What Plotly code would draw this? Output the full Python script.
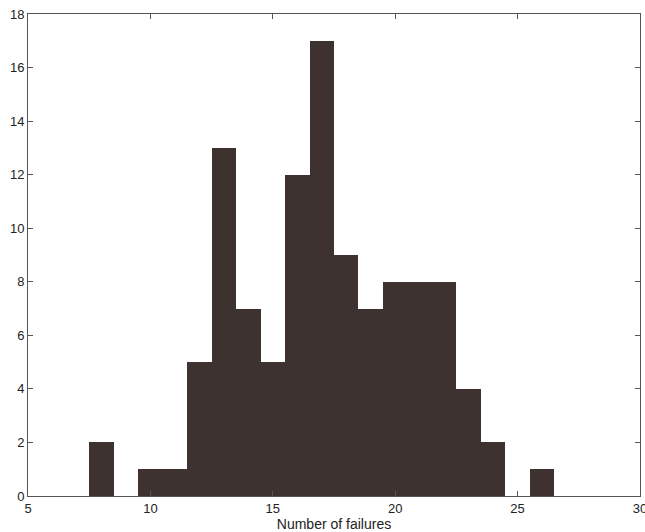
import plotly.graph_objects as go

failures = [8, 10, 11, 12, 13, 14, 15, 16, 17, 18, 19, 20, 21, 22, 23, 24, 26]
counts = [2, 1, 1, 5, 13, 7, 5, 12, 17, 9, 7, 8, 8, 8, 4, 2, 1]
x_ticks = [5, 10, 15, 20, 25, 30]
y_ticks = [0, 2, 4, 6, 8, 10, 12, 14, 16, 18]

fig = go.Figure(go.Bar(
    x=failures, y=counts, width=1,
    marker=dict(color="#3d3230", line=dict(width=0)),
))

axis_common = dict(
    showgrid=False, zeroline=False, showline=True, linecolor="#555555", linewidth=1,
    mirror="ticks", ticks="inside", ticklen=5, tickcolor="#555555", automargin=False,
    tickfont=dict(family="Liberation Sans, Arial", size=13, color="#222222"),
)
fig.update_layout(
    width=645, height=532,
    margin=dict(l=28, r=5, t=14, b=36),
    paper_bgcolor="white", plot_bgcolor="white",
    showlegend=False, bargap=0,
    xaxis=dict(range=[5, 30], tickvals=x_ticks, ticklabeloverflow="allow", **axis_common,
               title=dict(text="Number of failures", standoff=0,
                          font=dict(family="Liberation Sans, Arial", size=14, color="#222222"))),
    yaxis=dict(range=[0, 18], tickvals=y_ticks, **axis_common),
)
fig.write_html("out.html", config={"displayModeBar": False},
               post_script="document.body.style.margin='0';document.body.style.overflow='hidden';")
